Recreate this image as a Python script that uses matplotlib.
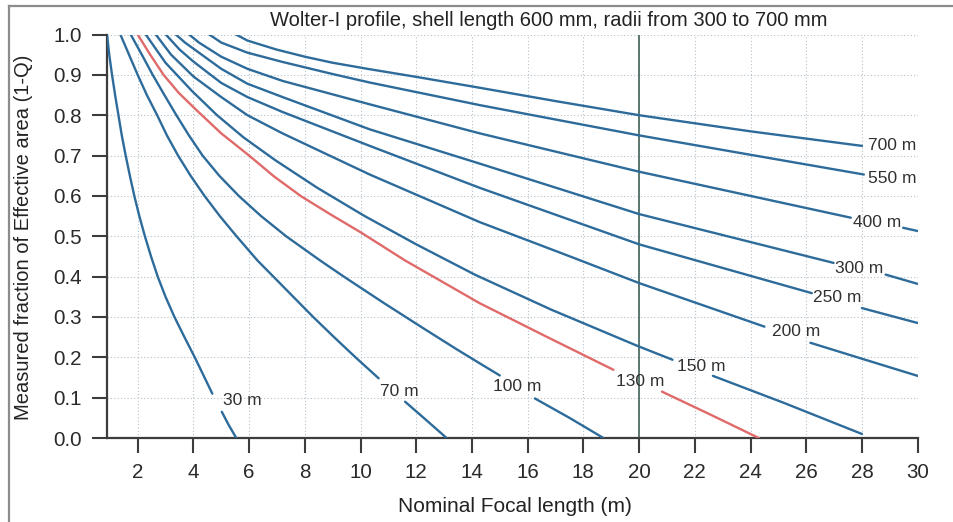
import numpy as np
import matplotlib
matplotlib.use("Agg")
import matplotlib.pyplot as plt
from matplotlib.lines import Line2D

nan = np.nan

# ---- data (gaps = where the curve label sits) ----
labels = ["30 m", "70 m", "100 m", "130 m", "150 m", "200 m",
          "250 m", "300 m", "400 m", "550 m", "700 m"]

c30_x = [0.90, 0.98, 1.08, 1.19, 1.31, 1.43, 1.57, 1.72, 1.88, 2.06, 2.26, 2.48, 2.72,
         3.00, 3.32, 3.68, 4.05, 4.40, 4.68, nan, 5.02, 5.27, 5.54]
c30_y = [1.00, 0.95, 0.90, 0.85, 0.80, 0.75, 0.70, 0.65, 0.60, 0.55, 0.50, 0.45, 0.40,
         0.35, 0.30, 0.25, 0.20, 0.15, 0.11, nan, 0.065, 0.032, 0.0]

c70_x = [1.38, 1.69, 2.00, 2.33, 2.70, 3.05, 3.45, 3.90, 4.40, 4.95, 5.55, 6.30, 7.30,
         8.30, 9.05, 9.82, 10.65, nan, 11.60, 12.35, 13.09]
c70_y = [1.00, 0.95, 0.90, 0.85, 0.80, 0.75, 0.70, 0.65, 0.60, 0.55, 0.50, 0.44, 0.37,
         0.30, 0.25, 0.20, 0.148, nan, 0.09, 0.045, 0.0]

c100_x = [1.75, 2.15, 2.54, 2.96, 3.39, 3.84, 4.33, 4.93, 5.63, 6.43, 7.33, 8.55, 9.40,
          10.85, 12.30, 13.45, 14.28, 15.00, nan, 16.26, 17.50, 18.72]
c100_y = [1.00, 0.95, 0.90, 0.85, 0.80, 0.75, 0.70, 0.65, 0.60, 0.55, 0.50, 0.44, 0.40,
          0.334, 0.27, 0.22, 0.185, 0.155, nan, 0.098, 0.05, 0.0]

c130_x = [2.00, 2.45, 2.93, 3.48, 4.09, 5.00, 6.00, 6.90, 7.87, 8.95, 10.00, 11.60, 14.28,
          16.68, 19.08, nan, 20.82, 22.50, 24.30]
c130_y = [1.00, 0.95, 0.90, 0.855, 0.814, 0.755, 0.70, 0.648, 0.599, 0.553, 0.51, 0.44, 0.334,
          0.251, 0.169, nan, 0.115, 0.06, 0.0]

c150_x = [2.29, 3.00, 3.95, 4.85, 5.80, 6.95, 8.45, 10.15, 12.00, 14.10, 16.85, 19.95,
          21.20, nan, 22.65, 25.20, 28.00]
c150_y = [1.00, 0.93, 0.86, 0.80, 0.745, 0.688, 0.62, 0.55, 0.48, 0.405, 0.318, 0.228,
          0.194, nan, 0.154, 0.087, 0.01]

c200_x = [2.65, 3.20, 4.00, 5.00, 5.94, 7.20, 10.33, 14.28, 17.52, 20.00, 24.50, nan,
          26.15, 28.07, 30.00]
c200_y = [1.00, 0.95, 0.896, 0.845, 0.80, 0.755, 0.653, 0.535, 0.45, 0.384, 0.276, nan,
          0.236, 0.195, 0.154]

c250_x = [3.01, 3.50, 4.00, 5.00, 5.94, 7.20, 10.33, 14.28, 20.00, 26.20, nan, 28.00, 30.00]
c250_y = [1.00, 0.963, 0.933, 0.88, 0.845, 0.808, 0.724, 0.62, 0.48, 0.359, nan, 0.322, 0.285]

c300_x = [3.37, 3.70, 4.00, 5.00, 5.94, 7.20, 10.33, 14.28, 20.00, 26.98, nan, 28.85, 30.00]
c300_y = [1.00, 0.98, 0.965, 0.915, 0.878, 0.845, 0.765, 0.68, 0.555, 0.434, nan, 0.405, 0.382]

c400_x = [3.85, 4.20, 5.00, 5.94, 7.20, 10.33, 14.28, 20.00, 27.60, nan, 29.48, 30.00]
c400_y = [1.00, 0.98, 0.945, 0.915, 0.885, 0.827, 0.755, 0.66, 0.546, nan, 0.521, 0.513]

c550_x = [4.57, 5.00, 5.94, 7.20, 9.00, 10.33, 14.28, 20.00, 28.07]
c550_y = [1.00, 0.98, 0.955, 0.932, 0.902, 0.881, 0.825, 0.75, 0.653]

c700_x = [5.53, 5.94, 6.97, 8.00, 9.00, 10.33, 12.00, 14.28, 17.00, 20.00, 24.00, 28.00]
c700_y = [1.00, 0.985, 0.963, 0.945, 0.93, 0.914, 0.895, 0.868, 0.835, 0.80, 0.76, 0.724]

highlight = "130 m"
marker_focal = 20

xticks = list(range(2, 31, 2))
yticks = [0.0, 0.1, 0.2, 0.3, 0.4, 0.5, 0.6, 0.7, 0.8, 0.9, 1.0]

title = "Wolter-I profile, shell length 600 mm, radii from 300 to 700 mm"
xlabel = "Nominal Focal length (m)"
ylabel = "Measured fraction of Effective area (1-Q)"

curves = [(c30_x, c30_y), (c70_x, c70_y), (c100_x, c100_y), (c130_x, c130_y),
          (c150_x, c150_y), (c200_x, c200_y), (c250_x, c250_y), (c300_x, c300_y),
          (c400_x, c400_y), (c550_x, c550_y), (c700_x, c700_y)]

# label placement (layout, data coordinates)
label_pos = [(5.74, 0.093), (11.38, 0.115), (15.63, 0.127), (20.03, 0.139),
             (22.22, 0.177), (25.62, 0.263), (27.12, 0.347), (27.90, 0.421),
             (28.54, 0.533), (29.09, 0.643), (29.09, 0.724)]

# ---- styling ----
plt.rcParams['font.family'] = ['Liberation Sans', 'DejaVu Sans']
BLUE = '#2d6b9b'
RED = '#e06a6a'
AXC = '#3c3c3c'

fig = plt.figure(figsize=(9.54, 5.22), dpi=100)
ax = fig.add_axes([0.1118, 0.1609, 0.8501, 0.773])

for lab, (xs, ys) in zip(labels, curves):
    col = RED if lab == highlight else BLUE
    ax.plot(xs, ys, color=col, lw=1.7, zorder=3, solid_capstyle='round',
            solid_joinstyle='round')

ax.axvline(marker_focal, color='#4f6d66', lw=1.3, zorder=2)

for lab, (lx, ly) in zip(labels, label_pos):
    ax.text(lx, ly, lab, ha='center', va='center', fontsize=12.5, color='#303030', zorder=4)

ax.set_xlim(0.887, 30)
ax.set_ylim(0, 1.0)
ax.set_xticks(xticks)
ax.set_yticks(yticks)
ax.set_yticklabels([f"{v:.1f}" for v in yticks])
ax.grid(True, color='#b5c0ca', ls=(0, (1, 2)), lw=0.8)
ax.set_axisbelow(True)
for s in ['top', 'right']:
    ax.spines[s].set_visible(False)
for s in ['left', 'bottom']:
    ax.spines[s].set_color(AXC)
    ax.spines[s].set_linewidth(1.6)
ax.tick_params(direction='out', length=11, width=1.5, colors=AXC,
               labelsize=14.8, pad=7, labelcolor='#2a2a2a')

fig.text(549 / 954, 1 - 20 / 522, title, ha='center', va='center', fontsize=14.5, color='#222222')
fig.text(515 / 954, 1 - 507 / 522, xlabel, ha='center', va='center', fontsize=15, color='#222222')
fig.text(24 / 954, 1 - 237 / 522, ylabel, ha='center', va='center', rotation=90,
         fontsize=14.5, color='#222222')

# scanned page frame (left and top edges)
fig.add_artist(Line2D([9 / 954, 9 / 954], [0, 1 - 6 / 522], transform=fig.transFigure,
                      color='#8c8c8c', lw=1.6))
fig.add_artist(Line2D([9 / 954, 1], [1 - 6 / 522, 1 - 6 / 522], transform=fig.transFigure,
                      color='#8c8c8c', lw=1.6))

fig.savefig('out.png', dpi=100)
